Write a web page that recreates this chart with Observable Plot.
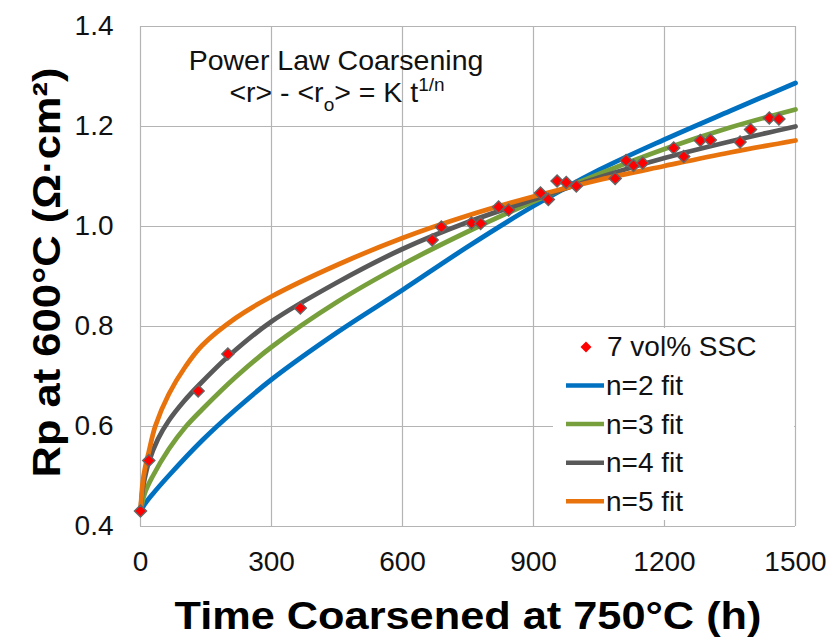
<!DOCTYPE html>
<html><head><meta charset="utf-8">
<script src="https://cdn.jsdelivr.net/npm/d3@7"></script>
<script src="https://cdn.jsdelivr.net/npm/@observablehq/plot@0.6"></script>
<style>
html,body{margin:0;padding:0;background:#fff;}
#chart{width:830px;height:639px;overflow:hidden;}
</style></head><body><div id="chart"></div>
<script>
// Measured data: 7 vol% SSC
const dataTime = [0, 19, 132, 200, 366, 668, 689, 758, 779, 820, 843, 916, 934, 954, 975, 998, 1087, 1112, 1129, 1150, 1221, 1244, 1282, 1305, 1373, 1397, 1440, 1462];
const dataRp   = [0.431, 0.532, 0.671, 0.745, 0.837, 0.973, 0.999, 1.007, 1.006, 1.039, 1.033, 1.067, 1.054, 1.091, 1.088, 1.081, 1.096, 1.132, 1.122, 1.127, 1.157, 1.140, 1.172, 1.173, 1.169, 1.194, 1.217, 1.215];

// Fit curves
const n2Time = [0, 10, 27, 65, 141, 218, 300, 450, 600, 750, 900, 1050, 1200, 1350, 1500];
const n2Rp   = [0.430, 0.445, 0.464, 0.502, 0.572, 0.634, 0.694, 0.788, 0.873, 0.960, 1.041, 1.113, 1.174, 1.231, 1.287];
const n3Time = [0, 10, 27, 65, 103, 141, 218, 300, 450, 600, 750, 900, 1050, 1200, 1350, 1500];
const n3Rp   = [0.430, 0.467, 0.499, 0.555, 0.599, 0.634, 0.699, 0.759, 0.849, 0.924, 0.990, 1.050, 1.105, 1.155, 1.198, 1.234];
const n4Time = [0, 5, 10, 19, 40, 65, 100, 134, 202, 300, 450, 600, 750, 900, 1050, 1200, 1350, 1500];
const n4Rp   = [0.430, 0.475, 0.498, 0.529, 0.575, 0.612, 0.651, 0.683, 0.741, 0.810, 0.888, 0.955, 1.009, 1.054, 1.098, 1.137, 1.170, 1.200];
const n5Time = [0, 5, 10, 19, 34, 65, 103, 141, 218, 300, 450, 600, 750, 900, 1050, 1200, 1350, 1500];
const n5Rp   = [0.430, 0.487, 0.515, 0.549, 0.601, 0.665, 0.720, 0.762, 0.817, 0.860, 0.923, 0.977, 1.022, 1.060, 1.093, 1.121, 1.148, 1.172];

const fitNames  = ["n=2 fit", "n=3 fit", "n=4 fit", "n=5 fit"];
const fitColors = ["#0070C0", "#77A03C", "#595959", "#E8720C"];
const pointName = "7 vol% SSC";

const xTicks = [0, 300, 600, 900, 1200, 1500];
const yTicks = [0.4, 0.6, 0.8, 1.0, 1.2, 1.4];

const xTitle = "Time Coarsened at 750°C (h)";
const yTitle = "Rp at 600°C (Ω·cm²)";
const noteLine1 = "Power Law Coarsening";
const noteLine2 = [["<r> - <r", "base"], ["o", "sub"], ["> = K t", "base"], ["1/n", "sup"]];

const fitTimes = [n2Time, n3Time, n4Time, n5Time];
const fitRps = [n2Rp, n3Rp, n4Rp, n5Rp];
const fitSeries = fitNames.map((name, i) => fitTimes[i].map((t, j) => ({name, time: t, rp: fitRps[i][j]})));
const points = dataTime.map((t, i) => ({time: t, rp: dataRp[i]}));

const FONT = "'Liberation Sans', Arial, sans-serif";
const gridColor = "#b4b4b4";

const plot = Plot.plot({
  width: 830, height: 639,
  marginLeft: 140, marginRight: 35, marginTop: 26, marginBottom: 113,
  style: {fontFamily: FONT, fontSize: "28px", color: "#111", background: "#fff", overflow: "visible"},
  x: {domain: [0, 1500], label: null},
  y: {domain: [0.4, 1.4], label: null},
  marks: [
    Plot.gridX(xTicks, {stroke: gridColor, strokeOpacity: 1, strokeWidth: 1.2}),
    Plot.gridY(yTicks, {stroke: gridColor, strokeOpacity: 1, strokeWidth: 1.2}),
    Plot.axisX({ticks: xTicks, tickSize: 0, tickPadding: 25, label: null, fontSize: 28, tickFormat: d => String(d)}),
    Plot.axisY({ticks: yTicks, tickSize: 0, tickPadding: 27, label: null, fontSize: 28, tickFormat: d => d.toFixed(1)}),
    ...fitSeries.map((s, i) => Plot.line(s, {x: "time", y: "rp", stroke: fitColors[i], strokeWidth: 4.8, curve: "catmull-rom"})),
    Plot.dot(points, {x: "time", y: "rp", symbol: "diamond2", r: 5.4, fill: "#ff0000", stroke: "#666", strokeWidth: 1.5}),
    Plot.text([xTitle], {frameAnchor: "bottom", lineAnchor: "middle", textAnchor: "middle", dy: 90, fontSize: 38, fontWeight: "bold", fill: "#000"}),
    Plot.text([yTitle], {frameAnchor: "left", lineAnchor: "middle", textAnchor: "middle", rotate: -90, dx: -93, dy: -4, fontSize: 38, fontWeight: "bold", fill: "#000"}),
    Plot.text([noteLine1], {frameAnchor: "top", lineAnchor: "middle", textAnchor: "middle", dx: -132, dy: 34, fontSize: 28.5, fill: "#111"})
  ]
});

document.getElementById("chart").appendChild(plot);

const svg = d3.select(plot);
// stretch axis titles to the reference widths
svg.selectAll("text").each(function() {
  const t = this.textContent;
  if (t.indexOf("Coarsened") >= 0) { this.setAttribute("textLength", 587); this.setAttribute("lengthAdjust", "spacingAndGlyphs"); }
  if (t.indexOf("Rp at") >= 0) { this.setAttribute("textLength", 410); this.setAttribute("lengthAdjust", "spacingAndGlyphs"); }
});

// equation line with sub/superscripts
const eq = svg.append("text")
  .attr("x", 337).attr("y", 101.5)
  .attr("text-anchor", "middle")
  .attr("font-family", FONT).attr("font-size", 28.5).attr("fill", "#111");
let shift = 0;
noteLine2.forEach(([txt, kind]) => {
  const target = kind === "sub" ? 9 : kind === "sup" ? -11 : 0;
  eq.append("tspan")
    .attr("dy", target - shift)
    .attr("font-size", kind === "base" ? 28.5 : 19)
    .text(txt);
  shift = target;
});

// legend
const lg = svg.append("g").attr("font-family", FONT).attr("font-size", 28).attr("fill", "#111").attr("text-anchor", "start");
lg.append("rect").attr("x", 553).attr("y", 328).attr("width", 241).attr("height", 192).attr("fill", "#fff");
lg.append("path")
  .attr("transform", "translate(586,347)")
  .attr("d", "M0,-5.5L5.5,0L0,5.5L-5.5,0Z")
  .attr("fill", "#ff0000");
lg.append("text").attr("x", 607).attr("y", 356).attr("text-anchor", "start").text(pointName);
fitNames.forEach((name, i) => {
  const yy = 385.5 + i * 38.6;
  lg.append("line").attr("x1", 566).attr("x2", 604).attr("y1", yy).attr("y2", yy)
    .attr("stroke", fitColors[i]).attr("stroke-width", 4.5);
  lg.append("text").attr("x", 606).attr("y", yy + 9.5).attr("text-anchor", "start").text(name);
});
</script></body></html>
